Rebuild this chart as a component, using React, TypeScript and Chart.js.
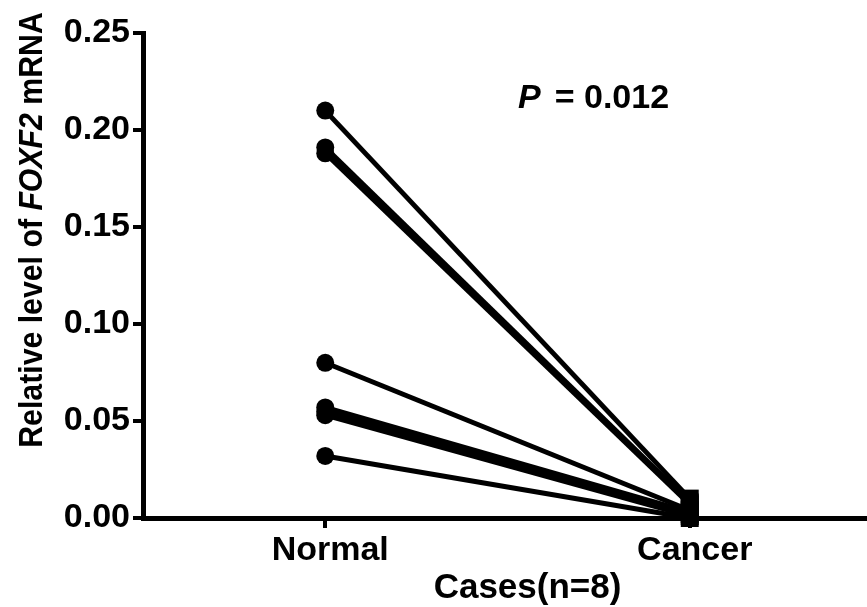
import React, { useEffect, useRef } from 'react';
import { Chart, registerables } from 'chart.js';
Chart.register(...registerables);

const categories = ['Normal', 'Cancer'];
const normalValues = [0.210, 0.191, 0.188, 0.080, 0.057, 0.055, 0.053, 0.032];
const cancerValues = [0.010, 0.008, 0.007, 0.004, 0.003, 0.002, 0.001, 0.000];
const yTicks = [0, 0.05, 0.10, 0.15, 0.20, 0.25];
const xTitle = 'Cases(n=8)';
const yTitleParts = [
  { text: 'Relative level of ', italic: false },
  { text: 'FOXF2', italic: true },
  { text: ' mRNA', italic: false },
];
const pItalic = 'P';
const pRest = '= 0.012';

const FONT = '"Liberation Sans", Arial, sans-serif';

const textPlugin = {
  id: 'customText',
  afterDraw(chart: any) {
    const ctx = chart.ctx;
    ctx.save();
    ctx.fillStyle = '#000';
    // y title
    const size = 34;
    const fontFor = (it: boolean) => `${it ? 'italic ' : ''}bold ${size}px ${FONT}`;
    let total = 0;
    const widths = yTitleParts.map((p) => {
      ctx.font = fontFor(p.italic);
      const w = ctx.measureText(p.text).width;
      total += w;
      return w;
    });
    ctx.translate(42, 230);
    ctx.rotate(-Math.PI / 2);
    ctx.scale(0.89, 1);
    ctx.textBaseline = 'alphabetic';
    ctx.textAlign = 'left';
    let x = -total / 2;
    yTitleParts.forEach((p, i) => {
      ctx.font = fontFor(p.italic);
      ctx.fillText(p.text, x, 0);
      x += widths[i];
    });
    ctx.restore();

    // x title
    ctx.save();
    ctx.fillStyle = '#000';
    ctx.textBaseline = 'alphabetic';
    ctx.textAlign = 'center';
    ctx.font = `bold 35px ${FONT}`;
    const xs = chart.scales.x;
    ctx.fillText(xTitle, (xs.left + xs.right) / 2 + 20, 598);
    ctx.restore();

    // P value
    ctx.save();
    ctx.fillStyle = '#000';
    ctx.textBaseline = 'alphabetic';
    ctx.textAlign = 'left';
    ctx.font = `italic bold 34px ${FONT}`;
    ctx.fillText(pItalic, 518, 108);
    const pw = ctx.measureText(pItalic).width;
    ctx.font = `bold 34px ${FONT}`;
    ctx.fillText(pRest, 518 + pw + 14, 108);
    ctx.restore();
  },
};

export default function App() {
  const ref = useRef<HTMLCanvasElement | null>(null);
  useEffect(() => {
    document.body.style.margin = '0';
    document.body.style.overflow = 'hidden';
    const canvas = ref.current!;
    const datasets = normalValues.map((v, i) => ({
      data: [v, cancerValues[i]],
      borderColor: '#000',
      backgroundColor: '#000',
      borderWidth: 5,
      pointStyle: ['circle', 'rect'],
      pointRadius: [9, 12.7],
      pointBorderWidth: 0,
      pointHoverRadius: [9, 12.7],
      clip: false,
    }));
    const chart = new Chart(canvas, {
      type: 'line',
      data: { labels: categories, datasets: datasets as any },
      options: {
        animation: false,
        responsive: false,
        events: [],
        layout: { autoPadding: false, padding: { top: 33, right: 0, left: 0, bottom: 0 } },
        plugins: { legend: { display: false }, tooltip: { enabled: false } },
        scales: {
          x: {
            type: 'category',
            offset: true,
            border: { display: true, width: 5, color: '#000' },
            grid: {
              offset: false,
              drawOnChartArea: false,
              drawTicks: true,
              tickLength: 10,
              lineWidth: 4,
              color: '#000',
            },
            ticks: {
              color: '#000',
              padding: 2,
              labelOffset: 5,
              font: { family: FONT, size: 34, weight: 'bold' },
            },
            afterFit: (s: any) => {
              s.height = 89;
            },
          },
          y: {
            min: 0,
            max: 0.25,
            border: { display: true, width: 5, color: '#000' },
            grid: {
              drawOnChartArea: false,
              drawTicks: true,
              tickLength: 10,
              lineWidth: 4,
              color: '#000',
            },
            afterBuildTicks: (s: any) => {
              s.ticks = yTicks.map((v) => ({ value: v }));
            },
            ticks: {
              color: '#000',
              padding: 3,
              font: { family: FONT, size: 34, weight: 'bold' },
              callback: (v: any) => Number(v).toFixed(2),
            },
            afterFit: (s: any) => {
              s.width = 143;
            },
          },
        },
      },
      plugins: [textPlugin],
    });
    return () => chart.destroy();
  }, []);
  return (
    <div style={{ width: 867, height: 607, overflow: 'hidden' }}>
      <canvas ref={ref} width={872} height={607} style={{ display: 'block' }} />
    </div>
  );
}
